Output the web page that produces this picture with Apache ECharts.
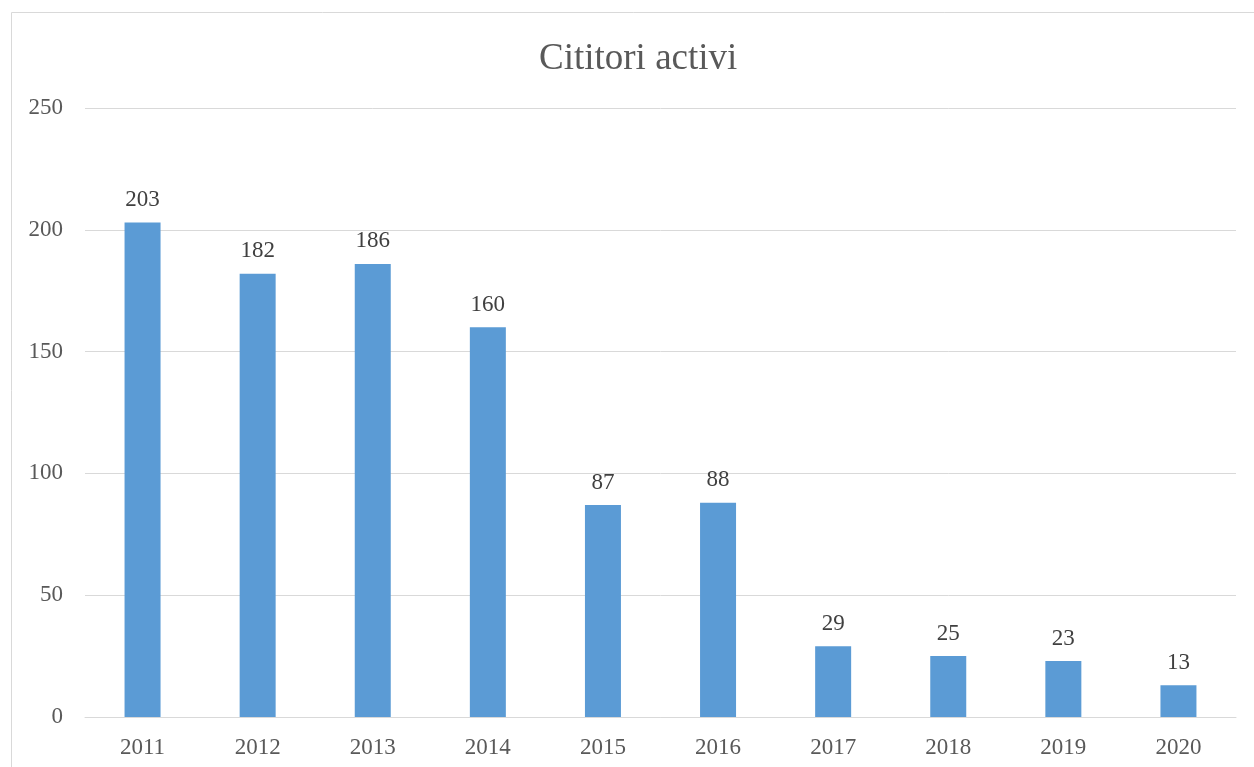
<!DOCTYPE html>
<html>
<head>
<meta charset="utf-8">
<script src="https://cdn.jsdelivr.net/npm/echarts@6/dist/echarts.min.js"></script>
<style>
  html, body { margin: 0; padding: 0; background: #fff; }
  #chart { width: 1254px; height: 767px; }
</style>
</head>
<body>
<div id="chart"></div>
<script>
// ani și cititori activi
const years = ['2011', '2012', '2013', '2014', '2015', '2016', '2017', '2018', '2019', '2020']
const readers = [203, 182, 186, 160, 87, 88, 29, 25, 23, 13]
const yTicks = [0, 50, 100, 150, 200, 250]

const font = '"Liberation Serif", "Times New Roman", serif'

const chart = echarts.init(document.getElementById('chart'))
chart.setOption({
  animation: false,
  title: {
    text: 'Cititori activi',
    left: 534,
    top: 36,
    textStyle: { fontFamily: font, fontSize: 37, fontWeight: 'normal', color: '#595959' }
  },
  graphic: [{
    type: 'rect',
    shape: { x: 11.5, y: 12.5, width: 1300, height: 800 },
    style: { fill: 'none', stroke: '#d9d9d9', lineWidth: 1 },
    silent: true
  }],
  grid: { left: 85, right: 18, top: 108, bottom: 50 },
  xAxis: {
    type: 'category',
    data: years,
    axisLine: { lineStyle: { color: '#d9d9d9', width: 1 } },
    axisTick: { show: false },
    axisLabel: { fontFamily: font, fontSize: 23, color: '#595959', margin: 19 }
  },
  yAxis: {
    type: 'value',
    min: yTicks[0],
    max: yTicks[yTicks.length - 1],
    interval: 50,
    axisLine: { show: false },
    axisTick: { show: false },
    splitLine: { lineStyle: { color: '#d9d9d9', width: 1 } },
    axisLabel: { fontFamily: font, fontSize: 23, color: '#595959', margin: 22 }
  },
  series: [{
    type: 'bar',
    data: readers,
    barWidth: 36,
    itemStyle: { color: '#5b9bd5' },
    label: {
      show: true,
      position: 'top',
      distance: 11,
      fontFamily: font,
      fontSize: 23,
      color: '#404040'
    }
  }]
})
</script>
</body>
</html>
